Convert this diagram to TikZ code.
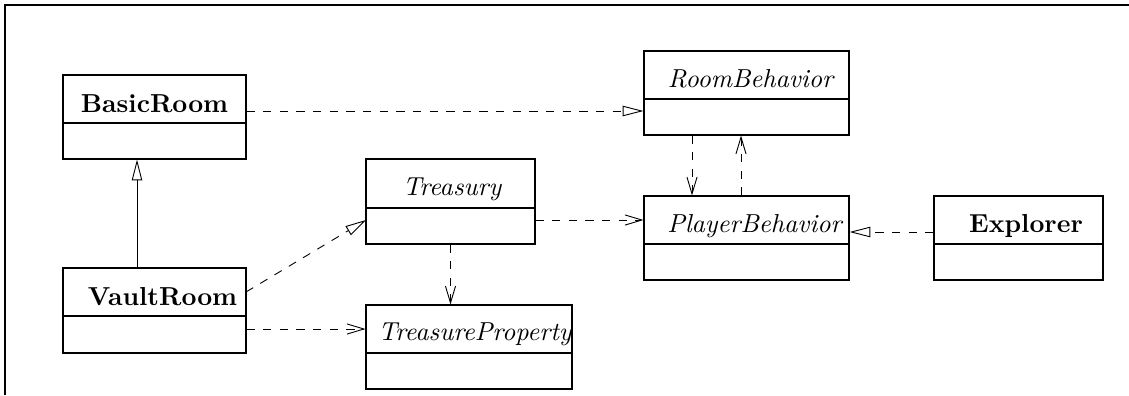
\documentclass[tikz,border=0pt]{standalone}
\usetikzlibrary{arrows.meta,fit}

\tikzset{
  classbox/.style={draw, line width=0.4pt, inner sep=0pt},
  classname/.style={anchor=base, inner sep=0pt, font=\fontsize{10}{12}\selectfont},
  divider/.style={line width=0.4pt},
  dep/.style={line width=0.35pt, dash pattern=on 3.2pt off 3.2pt,
    -{Straight Barb[length=6.5pt, width=3.9pt, line width=0.35pt]}},
  realize/.style={line width=0.35pt, dash pattern=on 3.2pt off 3.2pt,
    -{Triangle[open, length=8pt, width=4pt, line width=0.35pt]}},
  inherit/.style={line width=0.35pt,
    -{Triangle[open, length=8pt, width=4pt, line width=0.35pt]}},
  frameline/.style={line width=0.75pt},
}

\begin{document}
\begin{tikzpicture}[x=0.3846pt, y=-0.3846pt]
\useasboundingbox (0,0) rectangle (1129,395);

% frame on the top and left sides
\draw[frameline] (5,395) -- (5,5) -- (1129,5);

% class boxes
\node[classbox, fit={(63,75) (246,159)}] (br) {};
\node[classbox, fit={(63,268) (246,353)}] (vr) {};
\node[classbox, fit={(644,51) (849,135)}] (rb) {};
\node[classbox, fit={(644,196) (849,280)}] (pb) {};
\node[classbox, fit={(366,159) (535,244)}] (tr) {};
\node[classbox, fit={(366,305) (572,389)}] (tp) {};
\node[classbox, fit={(934,196) (1103,280)}] (ex) {};

% compartment dividers
\coordinate (ybr) at (0,123);
\coordinate (yvr) at (0,316);
\coordinate (yrb) at (0,99);
\coordinate (ypb) at (0,244);
\coordinate (ytr) at (0,208);
\coordinate (ytp) at (0,353);
\draw[divider] (br.west |- ybr) -- (br.east |- ybr);
\draw[divider] (vr.west |- yvr) -- (vr.east |- yvr);
\draw[divider] (rb.west |- yrb) -- (rb.east |- yrb);
\draw[divider] (pb.west |- ypb) -- (pb.east |- ypb);
\draw[divider] (tr.west |- ytr) -- (tr.east |- ytr);
\draw[divider] (tp.west |- ytp) -- (tp.east |- ytp);
\draw[divider] (ex.west |- ypb) -- (ex.east |- ypb);

% class names
\node[classname] (brname) at (154.5,112) {\bfseries BasicRoom};
\node[classname] (vrname) at (162.5,305) {\bfseries VaultRoom};
\node[classname] (rbname) at (750.5,87) {\itshape RoomBehavior};
\node[classname] (pbname) at (754.5,232) {\itshape PlayerBehavior};
\node[classname] (trname) at (452,195) {\itshape Treasury};
\node[classname] (tpname) at (475,340) {\itshape TreasureProperty};
\node[classname] (exname) at (1026,232) {\bfseries Explorer};

% connector guide positions
\coordinate (xinh) at (137,0);
\coordinate (ybrrb) at (0,111);
\coordinate (xdown) at (692,0);
\coordinate (xup) at (741,0);
\coordinate (ytrpb) at (0,220);
\coordinate (yexpb) at (0,232);
\coordinate (yvrtp) at (0,329);
\coordinate (vrout) at (246,292);
\coordinate (trin) at (366,220);

% connectors
\draw[inherit] (vr.north -| xinh) -- (br.south -| xinh);
\draw[realize] (br.east |- ybrrb) -- (rb.west |- ybrrb);
\draw[dep] (rb.south -| xdown) -- (pb.north -| xdown);
\draw[dep] (pb.north -| xup) -- (rb.south -| xup);
\draw[dep] (tr.east |- ytrpb) -- (pb.west |- ytrpb);
\draw[realize] (ex.west |- yexpb) -- (pb.east |- yexpb);
\draw[realize] (vrout) -- (trin);
\draw[dep] (tr.south) -- (tr.south |- tp.north);
\draw[dep] (vr.east |- yvrtp) -- (tp.west |- yvrtp);
\end{tikzpicture}
\end{document}
